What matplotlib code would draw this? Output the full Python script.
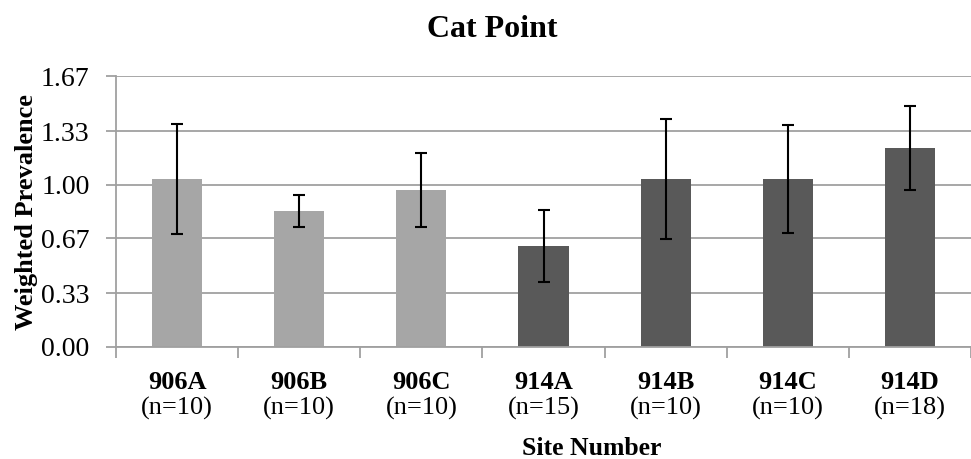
import matplotlib

matplotlib.use("Agg")
import matplotlib.pyplot as plt  # noqa: E402
import numpy as np  # noqa: E402

sites = ["906A", "906B", "906C", "914A", "914B", "914C", "914D"]
counts = [10, 10, 10, 15, 10, 10, 18]
prevalence = [1.035, 0.838, 0.967, 0.622, 1.035, 1.035, 1.226]
errors = [0.34, 0.10, 0.23, 0.22, 0.37, 0.33, 0.26]
groups = ["906", "906", "906", "914", "914", "914", "914"]
yticks = [0.00, 0.33, 0.67, 1.00, 1.33, 1.67]

GROUP_COLORS = {"906": "#A6A6A6", "914": "#595959"}
GRID = "#A0A0A0"
W, H = 971, 459

plt.rcParams["font.family"] = ["Liberation Serif", "DejaVu Serif"]

fig = plt.figure(figsize=(W / 100, H / 100), dpi=100)
ax = fig.add_axes([116 / W, 1 - 347 / H, 855 / W, 271 / H])

x = np.arange(len(sites))
ax.bar(x, prevalence, width=0.41, color=[GROUP_COLORS[g] for g in groups],
       zorder=2)
ax.errorbar(x, prevalence, yerr=errors, fmt="none", ecolor="black",
            elinewidth=1.5, capsize=4, capthick=1.5, zorder=3)

ax.set_xlim(-0.5, len(sites) - 0.5)
ax.set_ylim(0, 1.67)
ax.set_yticks(yticks)
ax.set_yticklabels([f"{v:.2f}" for v in yticks], fontsize=20)
ax.yaxis.grid(True, color=GRID, linewidth=1.3, zorder=0)
ax.tick_params(axis="y", length=7, color=GRID, width=1.3, pad=12)

# category boundary ticks on x
ax.set_xticks(np.arange(len(sites) + 1) - 0.5)
ax.set_xticklabels([])
ax.tick_params(axis="x", length=8, color=GRID, width=1.3)

for s in ["top", "right"]:
    ax.spines[s].set_visible(False)
for s in ["left", "bottom"]:
    ax.spines[s].set_color(GRID)
    ax.spines[s].set_linewidth(1.3)

trans = ax.get_xaxis_transform()
for xi, name, n in zip(x, sites, counts):
    ax.annotate(name, (xi, 0), xycoords=trans, xytext=(0, -30),
                textcoords="offset points", ha="center", va="baseline",
                fontsize=19, fontweight="bold")
    ax.annotate(f"(n={n})", (xi, 0), xycoords=trans, xytext=(0, -49),
                textcoords="offset points", ha="center", va="baseline",
                fontsize=19)

fig.text(592 / W, 1 - 455 / H, "Site Number",
         ha="center", va="baseline", fontsize=18.5, fontweight="bold")
fig.text(26 / W, 1 - 212 / H, "Weighted Prevalence", rotation=90,
         ha="center", va="center", fontsize=19, fontweight="bold")
fig.text(492 / W, 1 - 37 / H, "Cat Point",
         ha="center", va="baseline", fontsize=23, fontweight="bold")

fig.savefig("out.png", dpi=100)
